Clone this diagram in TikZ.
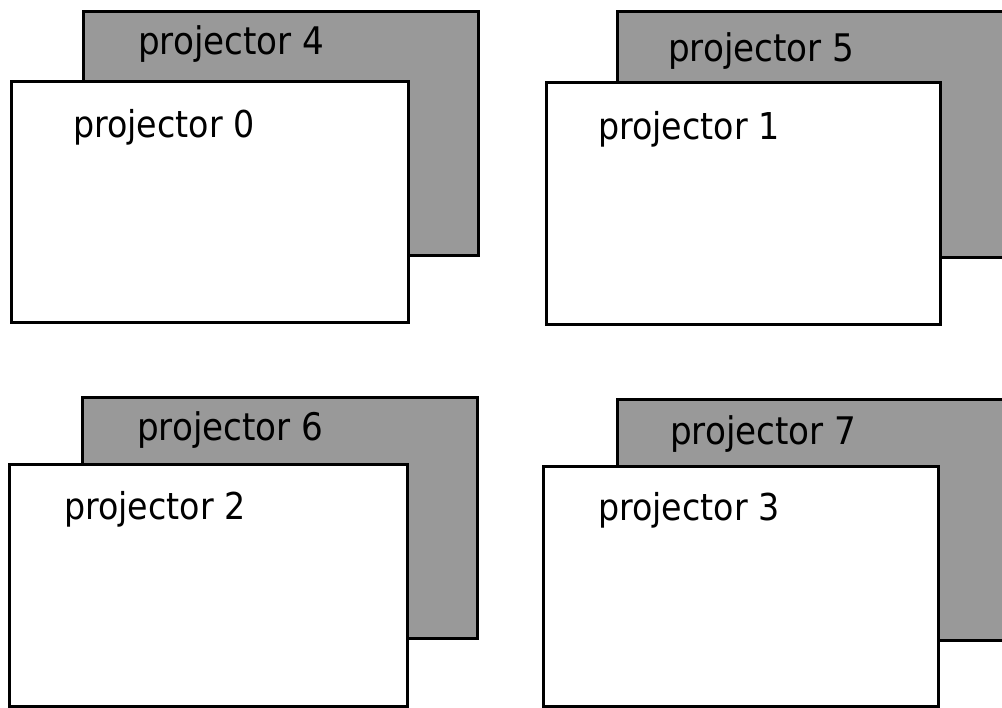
\documentclass[tikz,border=0pt]{standalone}
\usepackage{fontspec}
\setmainfont{DejaVu Sans Condensed}
\tikzset{
  backbox/.style={draw=black, line width=3pt, fill=black!40, inner sep=0pt},
  frontbox/.style={draw=black, line width=3pt, fill=white, inner sep=0pt},
  frontlabel/.style={anchor=base west, inner sep=0pt, font=\fontsize{37}{42}\selectfont},
  backlabel/.style={anchor=base west, inner sep=0pt, font=\fontsize{38}{42}\selectfont},
}
\begin{document}
\begin{tikzpicture}[x=1pt,y=-1pt]
\useasboundingbox (0,0) rectangle (1002,708);
\clip (0,0) rectangle (1002,708);
% pair 0 / 4
\draw[backbox] (83,12) rectangle (478,256) coordinate (b4);
\node[backlabel] (t4) at (138,55) {projector 4};
\draw[frontbox] (11,82) rectangle (408,323) coordinate (f0);
\node[frontlabel] (t0) at (73,138) {projector 0};
% pair 1 / 5
\draw[backbox] (617,12) rectangle (1010,258) coordinate (b5);
\node[backlabel] (t5) at (668,62) {projector 5};
\draw[frontbox] (546,83) rectangle (940,325) coordinate (f1);
\node[frontlabel] (t1) at (598,140) {projector 1};
% pair 2 / 6
\draw[backbox] (82,398) rectangle (477,638) coordinate (b6);
\node[backlabel] (t6) at (137,441) {projector 6};
\draw[frontbox] (9,465) rectangle (407,706) coordinate (f2);
\node[frontlabel] (t2) at (64,519) {projector 2};
% pair 3 / 7
\draw[backbox] (617,400) rectangle (1010,640) coordinate (b7);
\node[backlabel] (t7) at (670,445) {projector 7};
\draw[frontbox] (543,467) rectangle (938,706) coordinate (f3);
\node[frontlabel] (t3) at (598,521) {projector 3};
\end{tikzpicture}
\end{document}
